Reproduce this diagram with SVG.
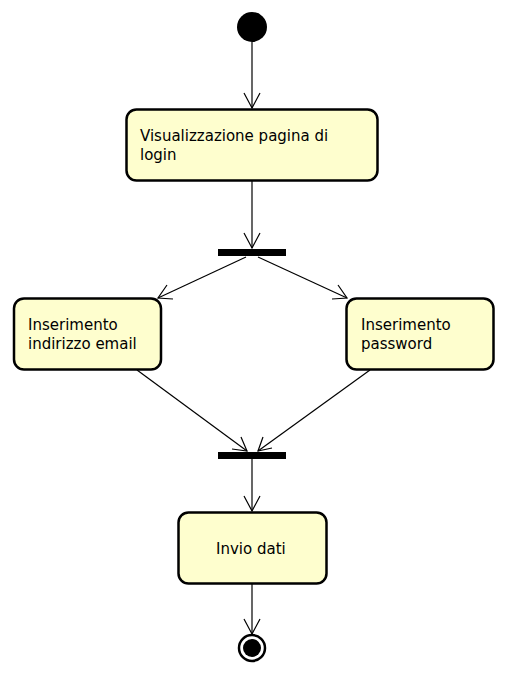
<svg xmlns="http://www.w3.org/2000/svg" width="508" height="676" viewBox="0 0 508 676">
<style>
.node rect.act{fill:#FEFECE;stroke:#000;stroke-width:2.5}
.bar{fill:#000}
text{font-family:"DejaVu Sans",sans-serif;font-size:15px;fill:#000}
.conn line{stroke:#000;stroke-width:1.2}
.conn path{fill:none;stroke:#000;stroke-width:1.2}
</style>
<rect width="508" height="676" fill="#fff"/>
<g id="start"><circle cx="252" cy="27" r="15" fill="#000"/></g>
<g id="n1" class="node"><rect class="act" x="126.5" y="109.5" width="251" height="71" rx="10"/><text x="140" y="141">Visualizzazione pagina di</text><text x="140" y="160">login</text></g>
<g id="fork1"><rect class="bar" x="218" y="249" width="68" height="7"/></g>
<g id="n2" class="node"><rect class="act" x="14" y="298.5" width="147" height="71" rx="10"/><text x="28" y="330">Inserimento</text><text x="28" y="349">indirizzo email</text></g>
<g id="n3" class="node"><rect class="act" x="346.5" y="298.5" width="147" height="71" rx="10"/><text x="361" y="330">Inserimento</text><text x="361" y="349">password</text></g>
<g id="join1"><rect class="bar" x="218" y="452" width="68" height="7"/></g>
<g id="n4" class="node"><rect class="act" x="178.5" y="512.5" width="148" height="71" rx="10"/><text x="216" y="554">Invio dati</text></g>
<g id="end"><circle cx="252" cy="648" r="13" fill="#fff" stroke="#000" stroke-width="2.5"/><circle cx="252" cy="648" r="9" fill="#000"/></g>
<g id="connectors" class="conn">
<line x1="252" y1="42" x2="252" y2="108"/><path d="M244,93 L252,108 L260,93"/>
<line x1="252" y1="181" x2="252" y2="248"/><path d="M244,233 L252,248 L260,233"/>
<line x1="246" y1="257" x2="158" y2="298"/><path d="M167,285 L158,298 L173,299"/>
<line x1="258" y1="257" x2="347" y2="298"/><path d="M338,285 L347,298 L332,299"/>
<line x1="137" y1="370" x2="247" y2="451"/><path d="M241,437 L247,451 L232,449"/>
<line x1="370" y1="370" x2="258" y2="451"/><path d="M263,437 L258,451 L272,448"/>
<line x1="252" y1="459" x2="252" y2="511"/><path d="M244,496 L252,511 L260,496"/>
<line x1="252" y1="584" x2="252" y2="634"/><path d="M244,619 L252,634 L260,619"/>
</g>
</svg>
